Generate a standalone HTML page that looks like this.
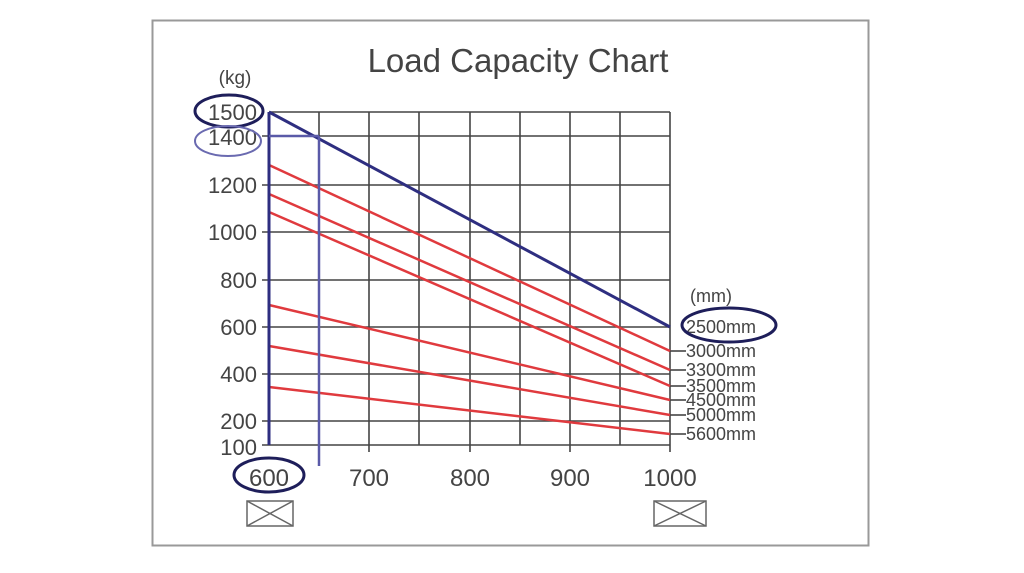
<!DOCTYPE html>
<html><head><style>body{margin:0;background:#fff}svg{display:block}text{font-family:"Liberation Sans",sans-serif;fill:#444}</style></head>
<body>
<svg width="1024" height="573" viewBox="0 0 1024 573">
<rect x="152.5" y="20.5" width="716" height="525" fill="#fff" stroke="#999" stroke-width="2"/>
<text x="518" y="72" font-size="33" text-anchor="middle" fill="#333">Load Capacity Chart</text>
<text x="235" y="84" font-size="19" text-anchor="middle">(kg)</text>
<g stroke="#444" stroke-width="1.6">
<line x1="269" y1="112" x2="670" y2="112"/><line x1="262" y1="136" x2="670" y2="136"/>
<line x1="262" y1="185" x2="670" y2="185"/>
<line x1="262" y1="232" x2="670" y2="232"/>
<line x1="262" y1="280" x2="670" y2="280"/>
<line x1="262" y1="327" x2="670" y2="327"/>
<line x1="262" y1="374" x2="670" y2="374"/>
<line x1="262" y1="421" x2="670" y2="421"/>
<line x1="262" y1="445" x2="670" y2="445"/>
<line x1="269" y1="112" x2="269" y2="445"/><line x1="319" y1="112" x2="319" y2="445"/>
<line x1="369" y1="112" x2="369" y2="452"/><line x1="419" y1="112" x2="419" y2="445"/>
<line x1="470" y1="112" x2="470" y2="452"/><line x1="520" y1="112" x2="520" y2="445"/>
<line x1="570" y1="112" x2="570" y2="452"/><line x1="620" y1="112" x2="620" y2="445"/>
<line x1="670" y1="112" x2="670" y2="452"/>
<line x1="670" y1="351" x2="686" y2="351"/><line x1="670" y1="370" x2="686" y2="370"/>
<line x1="670" y1="386" x2="686" y2="386"/><line x1="670" y1="400" x2="686" y2="400"/>
<line x1="670" y1="415" x2="686" y2="415"/><line x1="670" y1="434" x2="686" y2="434"/>
</g>
<g stroke="#e03a3e" stroke-width="2.5">
<line x1="269" y1="165" x2="670" y2="351"/><line x1="269" y1="194" x2="670" y2="370"/>
<line x1="269" y1="212" x2="670" y2="386"/><line x1="269" y1="305" x2="670" y2="400"/>
<line x1="269" y1="346" x2="670" y2="415"/><line x1="269" y1="387" x2="670" y2="434"/>
</g>
<g stroke="#2e2e80" stroke-width="3">
<line x1="269" y1="112" x2="670" y2="327"/>
<line x1="269" y1="112" x2="269" y2="445"/>
<line x1="269" y1="136" x2="319" y2="136" stroke="#5a5aa8" stroke-width="2.5"/>
<line x1="319" y1="136" x2="319" y2="466" stroke="#5a5aa8" stroke-width="2.5"/>
</g>
<g font-size="22" text-anchor="end">
<text x="257" y="120">1500</text><text x="257" y="145">1400</text>
<text x="257" y="193">1200</text><text x="257" y="240">1000</text>
<text x="257" y="288">800</text><text x="257" y="335">600</text>
<text x="257" y="382">400</text><text x="257" y="429">200</text>
<text x="257" y="455">100</text>
</g>
<g font-size="24" text-anchor="middle">
<text x="269" y="486">600</text><text x="369" y="486">700</text><text x="470" y="486">800</text>
<text x="570" y="486">900</text><text x="670" y="486">1000</text>
</g>
<g font-size="18">
<text x="690" y="302">(mm)</text>
<text x="686" y="333">2500mm</text><text x="686" y="357">3000mm</text>
<text x="686" y="376">3300mm</text><text x="686" y="392">3500mm</text>
<text x="686" y="406">4500mm</text><text x="686" y="421">5000mm</text>
<text x="686" y="440">5600mm</text>
</g>
<g fill="none" stroke-width="3">
<ellipse cx="229" cy="111" rx="34" ry="16" stroke="#1e1e5a"/>
<ellipse cx="228" cy="141" rx="33" ry="15" stroke="#6a6ab0" stroke-width="2"/>
<ellipse cx="269" cy="475" rx="35" ry="17" stroke="#1e1e5a"/>
<ellipse cx="729" cy="325" rx="47" ry="17" stroke="#1e1e5a"/>
</g>
<g fill="none" stroke="#666" stroke-width="1.5">
<rect x="247" y="501" width="46" height="25"/><path d="M247 501L293 526M293 501L247 526"/>
<rect x="654" y="501" width="52" height="25"/><path d="M654 501L706 526M706 501L654 526"/>
</g>
</svg>
</body></html>
